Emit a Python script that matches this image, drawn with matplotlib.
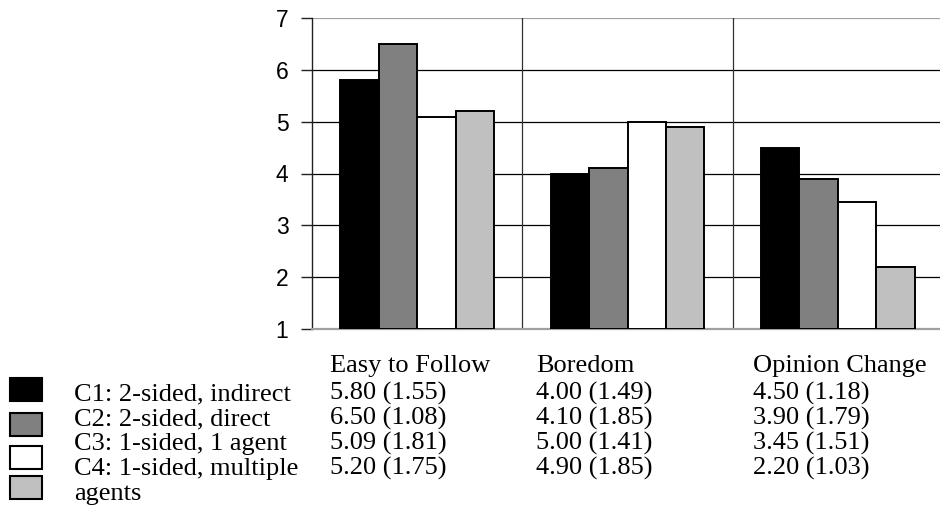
import matplotlib.pyplot as plt
from matplotlib.patches import Rectangle
import numpy as np

categories = ['Easy to Follow', 'Boredom', 'Opinion Change']
conditions = ['C1: 2-sided, indirect', 'C2: 2-sided, direct',
              'C3: 1-sided, 1 agent', 'C4: 1-sided, multiple\nagents']
means = [[5.80, 6.50, 5.09, 5.20],
         [4.00, 4.10, 5.00, 4.90],
         [4.50, 3.90, 3.45, 2.20]]
sds = [[1.55, 1.08, 1.81, 1.75],
       [1.49, 1.85, 1.41, 1.85],
       [1.18, 1.79, 1.51, 1.03]]
colors = ['black', '#808080', 'white', '#c0c0c0']

W, H = 940, 528
fig = plt.figure(figsize=(W / 100, H / 100), dpi=100)

def fx(px):
    return px / W

def fy(py):
    return 1 - py / H

# axes spans from x=312 to past the right border
ax = fig.add_axes([fx(312), fy(329), fx(943) - fx(312), fy(18) - fy(329)])

means_arr = np.array(means)
bw = 0.183
x = np.arange(len(categories)) + 0.5
for i in range(len(conditions)):
    ax.bar(x + (i - 1.5) * bw, means_arr[:, i] - 1, bw, bottom=1,
           color=colors[i], edgecolor='black', linewidth=1.4, zorder=3)

ax.set_xlim(0, 3)
ax.set_ylim(1, 7)
ax.set_yticks(range(1, 8))
ax.set_xticks([])
for yv in range(2, 7):
    ax.axhline(yv, color='black', linewidth=0.9, zorder=1)
ax.axhline(7, color='#a0a0a0', linewidth=1.6, zorder=1)
for xv in [1, 2]:
    ax.axvline(xv, color='#303030', linewidth=0.9, zorder=1)

ax.spines['top'].set_visible(False)
ax.spines['right'].set_visible(False)
ax.spines['bottom'].set_color('#a0a0a0')
ax.spines['bottom'].set_linewidth(1.6)
ax.spines['left'].set_color('#202020')
ax.spines['left'].set_linewidth(1.0)
ax.tick_params(axis='y', length=8, width=1.0, color='#202020', pad=9,
               labelsize=16.5)
for lab in ax.get_yticklabels():
    lab.set_fontfamily('Liberation Sans')

# table below the chart
serif = 'Liberation Serif'
fs = 19
col_x = [330, 536, 753]
header_y = 372
row_y = [400, 425, 450, 475, 500]
for j, cat in enumerate(categories):
    fig.text(fx(col_x[j]), fy(header_y), cat, family=serif, fontsize=fs,
             va='baseline', ha='left')
for i, cond in enumerate(conditions):
    for k, line in enumerate(cond.split('\n')):
        fig.text(fx(74), fy(row_y[i + k]), line, family=serif, fontsize=fs,
                 va='baseline', ha='left')
    for j in range(len(categories)):
        fig.text(fx(col_x[j]), fy(row_y[i]),
                 '%.2f (%.2f)' % (means[j][i], sds[j][i]),
                 family=serif, fontsize=fs, va='baseline', ha='left')

# legend squares
sq_top = [378, 413, 446, 476]
for i in range(len(conditions)):
    fig.patches.append(Rectangle((fx(10), fy(sq_top[i] + 23)), fx(32), 23 / H,
                                 transform=fig.transFigure,
                                 facecolor=colors[i], edgecolor='black',
                                 linewidth=1.5))

fig.savefig('out.png', dpi=100)
